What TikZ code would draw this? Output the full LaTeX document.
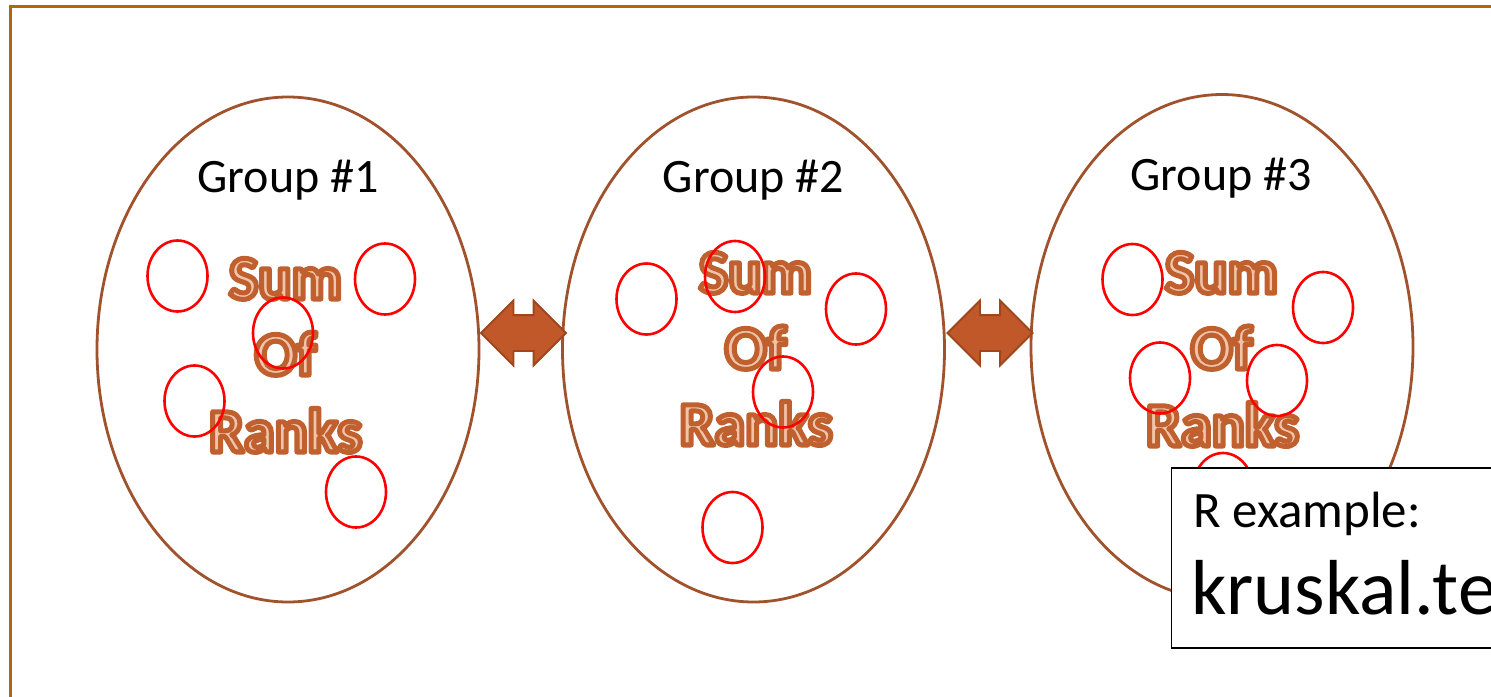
\documentclass[tikz,border=0pt]{standalone}
\usepackage{fontspec}
\setmainfont{Carlito}
\usetikzlibrary{shapes.geometric,shapes.arrows}
\definecolor{bordcol}{RGB}{180,101,15}
\definecolor{ellcol}{RGB}{160,82,45}
\definecolor{arrfill}{RGB}{192,88,42}
\definecolor{arrline}{RGB}{160,70,30}
\definecolor{sorange}{RGB}{192,96,46}
\definecolor{spale}{RGB}{240,196,170}
\newcommand\rankword[1]{{\color{spale}\special{pdf:literal direct 2 Tr 5 w 1 j 0.753 0.376 0.180 RG}#1\special{pdf:literal direct 0 Tr}}}
\begin{document}
\begin{tikzpicture}[x=1pt,y=-1pt,
  grp/.style={draw=ellcol, line width=2.8pt, ellipse, inner sep=0pt, minimum width=382pt, minimum height=505pt},
  dot/.style={draw=red, line width=2.6pt, ellipse, inner sep=0pt, minimum width=60pt, minimum height=71pt},
  lbl/.style={anchor=base, inner sep=0pt, font=\fontsize{48}{58}\selectfont},
  sor/.style={anchor=base, inner sep=0pt, font=\bfseries\fontsize{62}{74}\selectfont},
  dbl/.style={double arrow, draw=arrline, fill=arrfill, line width=1.8pt, double arrow head extend=14.5pt, minimum height=85pt, inner xsep=0pt, inner ysep=17pt},
  boxtext/.style={anchor=base west, inner sep=0pt}]
\useasboundingbox (0,0) rectangle (1491,696);
\clip (0,0) rectangle (1491,696);
\fill[white] (0,0) rectangle (1491,696);
\draw[bordcol, line width=3.5pt] (10.5,6.5) rectangle (1520,720);
% groups
\node[grp] (g1) at (288,349.5) {};
\node[grp] (g2) at (753.5,349.5) {};
\node[grp] (g3) at (1222,347) {};
% arrows
\node[dbl] (a12) at (523.5,333) {};
\node[dbl] (a23) at (990,333) {};
% labels
\node[lbl] (l1) at (288,192) {Group \#1};
\node[lbl] (l2) at (753.5,192) {Group \#2};
\node[lbl] (l3) at (1221,190) {Group \#3};
% sum of ranks
\node[sor] (s1a) at (285.5,299) {\rankword{Sum}};
\node[sor] (s1b) at (285.5,375) {\rankword{Of}};
\node[sor] (s1c) at (285.5,452) {\rankword{Ranks}};
\node[sor] (s2a) at (755.5,293) {\rankword{Sum}};
\node[sor] (s2b) at (755.5,369) {\rankword{Of}};
\node[sor] (s2c) at (756,445) {\rankword{Ranks}};
\node[sor] (s3a) at (1221.5,293) {\rankword{Sum}};
\node[sor] (s3b) at (1221.5,369) {\rankword{Of}};
\node[sor] (s3c) at (1222.5,446) {\rankword{Ranks}};
% observations
\node[dot] (c11) at (177.5,276) {};
\node[dot] (c12) at (385,279) {};
\node[dot] (c13) at (283,333) {};
\node[dot] (c14) at (194.5,401) {};
\node[dot] (c15) at (356,492) {};
\node[dot] (c21) at (646.5,299) {};
\node[dot] (c22) at (735,276.5) {};
\node[dot] (c23) at (856,309) {};
\node[dot] (c24) at (783,392) {};
\node[dot] (c25) at (732.5,527.5) {};
\node[dot] (c31) at (1132.5,279.5) {};
\node[dot] (c32) at (1323,307.5) {};
\node[dot] (c33) at (1160,378) {};
\node[dot] (c34) at (1277,380.5) {};
\node[dot] (c35) at (1223,488.5) {};
% R example box
\node[draw=black, fill=white, line width=1.8pt, anchor=north west, minimum width=440pt, minimum height=180pt, inner sep=0pt] (rbox) at (1170.5,467) {};
\node[boxtext, font=\fontsize{51}{61}\selectfont] (rex) at (1193,527) {R example:};
\node[boxtext, font=\fontsize{78}{94}\selectfont] (kt) at (1191,614) {kruskal.te};
\end{tikzpicture}
\end{document}
